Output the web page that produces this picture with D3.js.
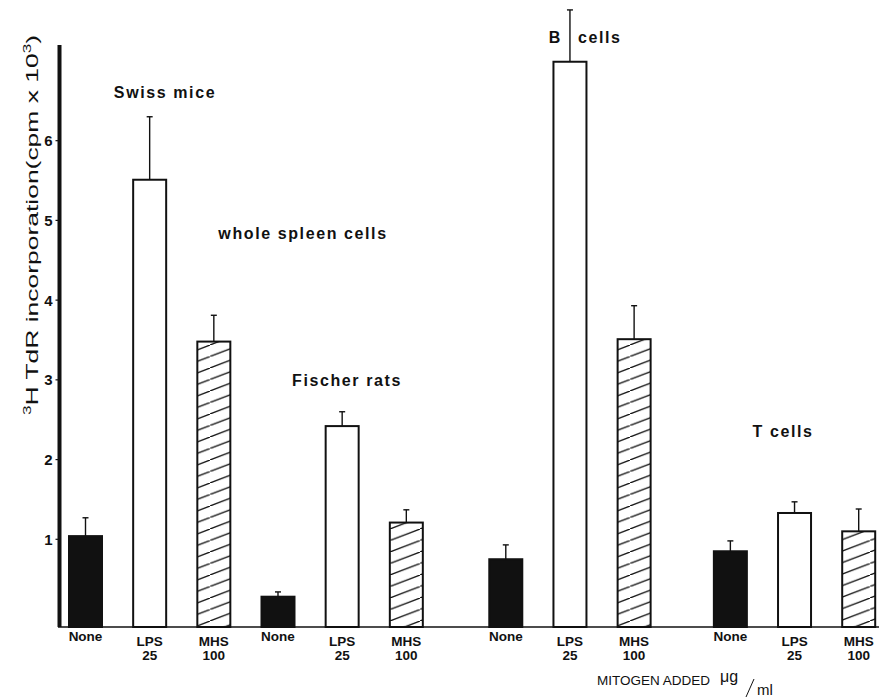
<!DOCTYPE html>
<html lang="en">
<head>
<meta charset="UTF-8">
<title>3H TdR incorporation by mitogen</title>
<script src="https://cdnjs.cloudflare.com/ajax/libs/d3/7.8.5/d3.min.js"></script>
<style>
    body {
        margin: 0;
        background: #fff;
        font-family: 'Liberation Sans', Arial, sans-serif;
    }
    text { fill: #111; }
    .tick-label { font-size: 15px; font-weight: bold; }
    .x-label { font-size: 13.5px; font-weight: bold; }
    .note { font-size: 16px; font-weight: bold; letter-spacing: 1.6px; }
</style>
</head>
<body>
<div id="chart"></div>
<script>
// groups of cells, each with three cultures
const groups = ["Swiss mice", "Fischer rats", "B cells", "T cells"];
const mitogens = ["None", "LPS", "MHS"];
const doses = ["", "25", "100"];

// mean cpm x 10^3 for None, LPS, MHS
const swissMice = [1.04, 5.51, 3.48];
const fischerRats = [0.28, 2.42, 1.21];
const bCells = [0.75, 6.99, 3.51];
const tCells = [0.85, 1.33, 1.10];

// standard errors (upper bar only)
const swissErr = [0.23, 0.79, 0.33];
const fischerErr = [0.06, 0.18, 0.16];
const bErr = [0.18, 0.65, 0.42];
const tErr = [0.13, 0.14, 0.28];

const yTicks = [1, 2, 3, 4, 5, 6];

const means = [swissMice, fischerRats, bCells, tCells];
const errs = [swissErr, fischerErr, bErr, tErr];
// extra empty space (in bar slots) added before each group
const groupGap = [0, 0, 0.55, 1.05];

const bars = [];
groups.forEach((g, gi) => {
    mitogens.forEach((m, mi) => {
        bars.push({
            group: g, mitogen: m, dose: doses[mi],
            slot: gi * 3 + mi + groupGap[gi],
            value: means[gi][mi], err: errs[gi][mi]
        });
    });
});

const W = 879, H = 697;
const svg = d3.select("#chart").append("svg")
    .attr("width", W).attr("height", H);

const x = d3.scaleLinear()
    .domain([0, d3.max(bars, d => d.slot)])
    .range([85.5, 858.7]);
const y = d3.scaleLinear().domain([-0.1, 7.2]).range([627, 45]);
const barW = 33;

// hatch for MHS bars
const defs = svg.append("defs");
const pat = defs.append("pattern")
    .attr("id", "hatch")
    .attr("patternUnits", "userSpaceOnUse")
    .attr("width", 30).attr("height", 11.5);
pat.append("rect").attr("width", 30).attr("height", 11.5).attr("fill", "#fff");
pat.append("line")
    .attr("x1", -1).attr("y1", 11.5 + 11.5 / 30)
    .attr("x2", 31).attr("y2", -11.5 / 30)
    .attr("stroke", "#111").attr("stroke-width", 1.3);

const fills = { None: "#111", LPS: "#fff", MHS: "url(#hatch)" };

const base = y.domain()[0];

svg.selectAll("rect.bar")
    .data(bars)
    .enter()
    .append("rect")
    .attr("class", "bar")
    .attr("x", d => x(d.slot) - barW / 2)
    .attr("width", barW)
    .attr("y", d => y(d.value))
    .attr("height", d => y(base) - y(d.value))
    .attr("fill", d => fills[d.mitogen])
    .attr("stroke", "#111")
    .attr("stroke-width", 2);

// error bars
const eb = svg.selectAll("g.err")
    .data(bars)
    .enter()
    .append("g")
    .attr("class", "err")
    .attr("stroke", "#111")
    .attr("stroke-width", 1.4);
eb.append("line")
    .attr("x1", d => x(d.slot)).attr("x2", d => x(d.slot))
    .attr("y1", d => y(d.value)).attr("y2", d => y(d.value + d.err));
eb.append("line")
    .attr("x1", d => x(d.slot) - 3).attr("x2", d => x(d.slot) + 3)
    .attr("y1", d => y(d.value + d.err)).attr("y2", d => y(d.value + d.err));

// baseline
svg.append("line")
    .attr("x1", 58).attr("x2", W)
    .attr("y1", y(base)).attr("y2", y(base))
    .attr("stroke", "#111").attr("stroke-width", 1.6);

// y axis
const yAxis = svg.append("g").attr("transform", "translate(59.5,0)");
yAxis.append("line")
    .attr("y1", y.range()[1]).attr("y2", y(base))
    .attr("stroke", "#111").attr("stroke-width", 4);
yAxis.selectAll("line.tk")
    .data(yTicks)
    .enter()
    .append("line")
    .attr("class", "tk")
    .attr("x1", -4).attr("x2", 0)
    .attr("y1", d => y(d)).attr("y2", d => y(d))
    .attr("stroke", "#111").attr("stroke-width", 1.2);
yAxis.selectAll("text")
    .data(yTicks)
    .enter()
    .append("text")
    .attr("class", "tick-label")
    .attr("x", -7)
    .attr("y", d => y(d))
    .attr("dy", "0.36em")
    .attr("text-anchor", "end")
    .text(d => d);

// y title
const yt = svg.append("text")
    .attr("transform", "translate(38,415) rotate(-90)")
    .attr("font-size", 17)
    .attr("textLength", 380)
    .attr("lengthAdjust", "spacingAndGlyphs");
yt.append("tspan").attr("font-size", 11).attr("dy", -7).text("3");
yt.append("tspan").attr("dy", 7).text("H TdR incorporation(cpm x 10");
yt.append("tspan").attr("font-size", 11).attr("dy", -7).text("3");
yt.append("tspan").attr("dy", 7).text(")");

// x labels
const xl = svg.selectAll("text.x-label")
    .data(bars)
    .enter()
    .append("text")
    .attr("class", "x-label")
    .attr("text-anchor", "middle")
    .attr("x", d => x(d.slot));
xl.append("tspan")
    .attr("x", d => x(d.slot))
    .attr("y", d => d.dose ? 646 : 641)
    .text(d => d.mitogen);
xl.append("tspan")
    .attr("x", d => x(d.slot))
    .attr("y", 660)
    .text(d => d.dose);

// notes on the plot
const notes = [
    { t: "Swiss mice", x: 165, y: 98 },
    { t: "whole spleen cells", x: 303, y: 239 },
    { t: "Fischer rats", x: 347, y: 386 },
    { t: "T cells", x: 783, y: 437 }
];
svg.selectAll("text.note")
    .data(notes)
    .enter()
    .append("text")
    .attr("class", "note")
    .attr("x", d => d.x).attr("y", d => d.y)
    .attr("text-anchor", "middle")
    .text(d => d.t);

const bLps = bars.find(d => d.group === "B cells" && d.mitogen === "LPS");
svg.append("text").attr("class", "note")
    .attr("x", x(bLps.slot) - 8).attr("y", 43)
    .attr("text-anchor", "end").text("B");
svg.append("text").attr("class", "note")
    .attr("x", x(bLps.slot) + 8).attr("y", 43)
    .text("cells");

// x title
svg.append("text")
    .attr("x", 597).attr("y", 685)
    .attr("font-size", 13.5)
    .text("MITOGEN ADDED");
svg.append("text")
    .attr("x", 720).attr("y", 682)
    .attr("font-size", 16)
    .text("\u03bcg");
svg.append("line")
    .attr("x1", 746).attr("y1", 697)
    .attr("x2", 754).attr("y2", 679)
    .attr("stroke", "#111").attr("stroke-width", 1);
svg.append("text")
    .attr("x", 757).attr("y", 695)
    .attr("font-size", 15)
    .text("ml");
</script>
</body>
</html>
